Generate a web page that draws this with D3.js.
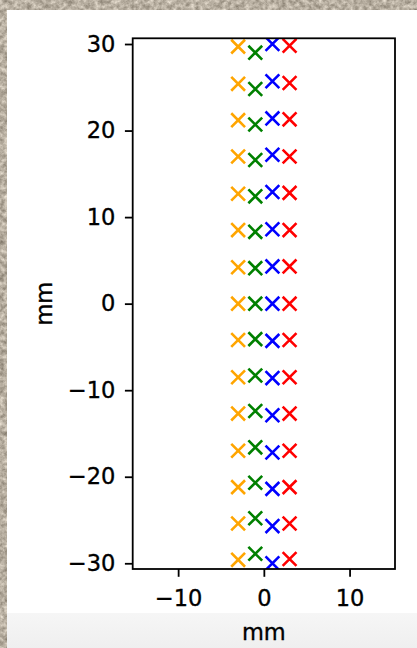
<!DOCTYPE html>
<html>
<head>
<meta charset="utf-8">
<script src="https://cdn.jsdelivr.net/npm/d3@7"></script>
<style>
  html, body { margin: 0; padding: 0; overflow: hidden; background: #b8ad9e; }
  svg { display: block; }
  text { font-family: "DejaVu Sans", sans-serif; }
</style>
</head>
<body>
<svg id="chart" width="417" height="648"></svg>
<script>
// ---- data ----
const columnsX = [-3, -1, 1, 3];
const seriesColors = ["orange", "green", "blue", "red"];
const orangeY = [29.7, 25.4, 21.2, 17.0, 12.7, 8.5, 4.2, 0.0, -4.2, -8.5, -12.7, -17.0, -21.2, -25.4, -29.6];
const greenY  = [29.0, 24.8, 20.7, 16.6, 12.4, 8.3, 4.1, 0.0, -4.1, -8.3, -12.4, -16.6, -20.7, -24.8, -28.9];
const blueY   = [30.0, 25.7, 21.4, 17.2, 12.9, 8.6, 4.3, 0.0, -4.3, -8.6, -12.9, -17.2, -21.4, -25.7, -30.0];
const redY    = [29.8, 25.5, 21.3, 17.0, 12.8, 8.5, 4.3, 0.0, -4.2, -8.5, -12.7, -17.0, -21.2, -25.4, -29.5];
const xTicks = [-10, 0, 10];
const yTicks = [-30, -20, -10, 0, 10, 20, 30];
const xLabel = "mm";
const yLabel = "mm";

const seriesY = [orangeY, greenY, blueY, redY];

// ---- layout ----
const svg = d3.select("#chart");
const W = 417, H = 648;
const plot = { left: 132.7, right: 395, top: 38.3, bottom: 569 };
const FS = "22.5px";

const defs = svg.append("defs");
const f = defs.append("filter").attr("id", "tex").attr("x", 0).attr("y", 0)
  .attr("width", "100%").attr("height", "100%")
  .attr("color-interpolation-filters", "sRGB");
f.append("feTurbulence").attr("type", "fractalNoise").attr("baseFrequency", 0.22).attr("numOctaves", 5).attr("seed", 11);
f.append("feColorMatrix").attr("type", "matrix")
  .attr("values", "0.5 0 0 0 0.47  0.5 0 0 0 0.435  0.5 0 0 0 0.38  0 0 0 0 1");
defs.append("clipPath").attr("id", "plotclip").append("rect")
  .attr("x", plot.left).attr("y", plot.top)
  .attr("width", plot.right - plot.left).attr("height", plot.bottom - plot.top);

// textured background
svg.append("rect").attr("width", W).attr("height", H).attr("filter", "url(#tex)");
// white figure
svg.append("rect").attr("x", 7).attr("y", 10).attr("width", W - 7).attr("height", H - 10).attr("fill", "#ffffff");
// light grey band at the bottom
const grad = defs.append("linearGradient").attr("id", "band").attr("x1", 0).attr("y1", 0).attr("x2", 0).attr("y2", 1);
grad.append("stop").attr("offset", "0%").attr("stop-color", "#f6f6f6");
grad.append("stop").attr("offset", "100%").attr("stop-color", "#efefef");
svg.append("rect").attr("x", 7).attr("y", 613).attr("width", W - 7).attr("height", H - 613).attr("fill", "url(#band)");

// ---- scales ----
const x = d3.scaleLinear().domain([-15.3, 15.3]).range([plot.left, plot.right]);
const y = d3.scaleLinear().domain([-30.66, 30.66]).range([plot.bottom, plot.top]);

// ---- markers ----
const r = 6.9;
const marks = svg.append("g").attr("clip-path", "url(#plotclip)");
seriesY.forEach((ys, si) => {
  const pts = ys.map(v => ({ x: columnsX[si], y: v }));
  marks.append("g").selectAll("path").data(pts).join("path")
    .attr("d", d => {
      const cx = x(d.x), cy = y(d.y);
      return `M${cx - r},${cy - r}L${cx + r},${cy + r}M${cx - r},${cy + r}L${cx + r},${cy - r}`;
    })
    .attr("stroke", seriesColors[si])
    .attr("stroke-width", 2.6)
    .attr("fill", "none");
});

// ---- axes ----
const tickLen = 7.8;
const xAxis = svg.append("g").attr("transform", `translate(0,${plot.bottom})`)
  .call(d3.axisBottom(x).tickValues(xTicks).tickSize(tickLen).tickPadding(13.4));
const yAxis = svg.append("g").attr("transform", `translate(${plot.left},0)`)
  .call(d3.axisLeft(y).tickValues(yTicks).tickSize(tickLen).tickPadding(9.5));
[xAxis, yAxis].forEach(a => {
  a.select(".domain").remove();
  a.selectAll("line").attr("stroke", "#000").attr("stroke-width", 1.8);
  a.selectAll("text").attr("font-size", FS).attr("fill", "#000")
    .attr("stroke", "#000").attr("stroke-width", 0.35)
    .attr("font-family", "DejaVu Sans, sans-serif");
});

// frame
svg.append("rect")
  .attr("x", plot.left).attr("y", plot.top)
  .attr("width", plot.right - plot.left).attr("height", plot.bottom - plot.top)
  .attr("fill", "none").attr("stroke", "#000").attr("stroke-width", 1.8);

// axis labels
svg.append("text").attr("x", (plot.left + plot.right) / 2).attr("y", 640)
  .attr("text-anchor", "middle").attr("font-size", FS).attr("fill", "#000")
  .attr("stroke", "#000").attr("stroke-width", 0.35).text(xLabel);
svg.append("text").attr("transform", `translate(52,${(plot.top + plot.bottom) / 2}) rotate(-90)`)
  .attr("text-anchor", "middle").attr("font-size", FS).attr("fill", "#000")
  .attr("stroke", "#000").attr("stroke-width", 0.35).text(yLabel);
</script>
</body>
</html>
